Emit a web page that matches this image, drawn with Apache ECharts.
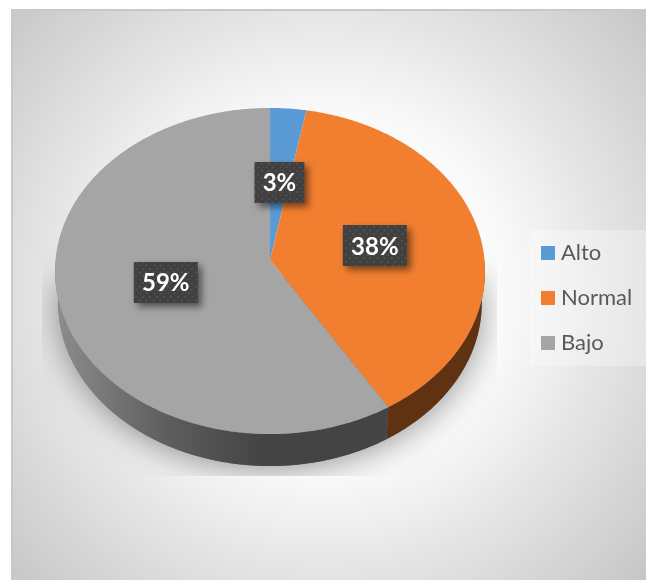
<!DOCTYPE html>
<html>
<head>
<meta charset="utf-8">
<style>html,body{margin:0;padding:0;background:#fff}#c{width:646px;height:580px}</style>
<script src="https://cdn.jsdelivr.net/npm/echarts@6/dist/echarts.min.js"></script>
</head>
<body>
<div id="c"></div>
<script>
const categories = ['Alto', 'Normal', 'Bajo'];
const seriesValues = [2.9, 38.4, 58.7];
const sliceColors = ['#5b9bd5', '#f27f30', '#a5a5a5'];

const total = seriesValues.reduce((a, b) => a + b, 0);
// Perspective disc: apex, half axes, foreshortening
const D = { cx: 270, cy: 260, a: 162.3, b: 214.5, p: 0.0675, depth: 32, bottomScale: 0.985 };
function proj(deg, rho, lower) {
  const t = deg * Math.PI / 180;
  const u = Math.sin(t) * rho, v = -Math.cos(t) * rho;
  const w = 1 - v * D.p;
  const s = lower ? D.bottomScale : 1;
  return [D.cx + s * D.b * u / w, D.cy + D.a * v / w + (lower ? D.depth : 0)];
}
function arc(from, to, lower) {
  const pts = [], n = Math.max(2, Math.ceil(Math.abs(to - from) * 2));
  for (let i = 0; i <= n; i++) pts.push(proj(from + (to - from) * i / n, 1, lower));
  return pts;
}
const pat = document.createElement('canvas');
pat.width = 14; pat.height = 14;
(function () {
  const g = pat.getContext('2d');
  g.fillStyle = '#404040'; g.fillRect(0, 0, 14, 14);
  g.fillStyle = '#555555';
  [[3, 3], [10, 3], [6.5, 6.5], [13.5, 6.5], [0, 6.5], [3, 10], [10, 10], [6.5, 13.5], [0, 13.5]].forEach(p => {
    g.beginPath(); g.arc(p[0], p[1], 1, 0, Math.PI * 2); g.fill();
  });
})();

function sliceRender(idx) {
  return function (params, api) {
    const before = seriesValues.slice(0, idx).reduce((a, b) => a + b, 0);
    const start = before / total * 360;
    const end = start + api.value(0) / total * 360;
    const children = [];
    const wFrom = Math.max(start, 90), wTo = Math.min(end, 270);
    if (wTo > wFrom) {
      const poly = arc(wFrom, wTo, false).concat(arc(wTo, wFrom, true));
      const fill = idx === 1 ? '#5f3211' : {
        type: 'linear', x: 58, y: 0, x2: 386, y2: 0, global: true,
        colorStops: [{ offset: 0, color: '#8c8c8c' }, { offset: 0.33, color: '#5e5e5e' }, { offset: 0.62, color: '#444444' }, { offset: 1, color: '#444444' }]
      };
      children.push({ type: 'polygon', shape: { points: poly }, style: { fill: fill } });
    }
    const top = [[D.cx, D.cy]].concat(arc(start, end, false));
    children.push({ type: 'polygon', shape: { points: top }, style: { fill: sliceColors[idx] } });
    const c = proj((start + end) / 2, 0.5, false);
    const w = idx === 0 ? 50 : 64, h = 41;
    children.push({
      type: 'rect', z2: 100,
      shape: { x: c[0] - w / 2, y: Math.round(c[1] - h / 2 + 0.5), width: w, height: h },
      style: { fill: { image: pat, repeat: 'repeat' }, shadowBlur: 7, shadowOffsetX: 4, shadowOffsetY: 4, shadowColor: 'rgba(0,0,0,0.5)' }
    });
    children.push({
      type: 'text', z2: 101,
      style: { text: Math.round(api.value(0) / total * 100) + '%', x: c[0], y: c[1] + 1.5, align: 'center', verticalAlign: 'middle', fill: '#ffffff', font: 'bold 24px Lato' }
    });
    return { type: 'group', children: children };
  };
}
function shadowRender() {
  const halfDisc = arc(85, 275, true);
  return {
    type: 'polygon', shape: { points: halfDisc },
    style: { fill: '#777', shadowBlur: 32, shadowOffsetY: 3, shadowColor: 'rgba(0,0,0,0.42)' },
    clipPath: { type: 'rect', shape: { x: 42, y: 200, width: 455, height: 276 } }
  };
}

const series = [{
  type: 'custom', name: 'sombra', coordinateSystem: 'none', silent: true, animation: false,
  data: [[0]], renderItem: shadowRender
}].concat(categories.map((name, i) => ({
  type: 'custom', name: name, coordinateSystem: 'none', animation: false, silent: true,
  itemStyle: { color: sliceColors[i] },
  data: [[seriesValues[i]]], renderItem: sliceRender(i)
})));

const chart = echarts.init(document.getElementById('c'), null, { renderer: 'canvas' });
chart.setOption({
  animation: false,
  graphic: [{
    type: 'rect', z: -10, silent: true,
    shape: { x: 12, y: 10, width: 640, height: 580 },
    style: {
      stroke: '#c8c8c8', lineWidth: 2,
      fill: {
        type: 'radial', x: 0.49, y: 0.485, r: 0.74,
        colorStops: [{ offset: 0, color: '#ffffff' }, { offset: 0.3, color: '#ffffff' }, { offset: 0.44, color: '#f8f8f8' }, { offset: 0.67, color: '#e3e3e3' }, { offset: 1, color: '#c6c6c6' }]
      }
    }
  }],
  legend: {
    orient: 'vertical', left: 530, top: 230, padding: [12, 20, 12, 11],
    data: categories, icon: 'rect', itemWidth: 14, itemHeight: 14, itemGap: 23,
    backgroundColor: 'rgba(255,255,255,0.3)', selectedMode: false,
    textStyle: { color: '#595959', fontFamily: 'Lato', fontSize: 22, padding: [0, 0, 0, 1] }
  },
  series: series
});
</script>
</body>
</html>
